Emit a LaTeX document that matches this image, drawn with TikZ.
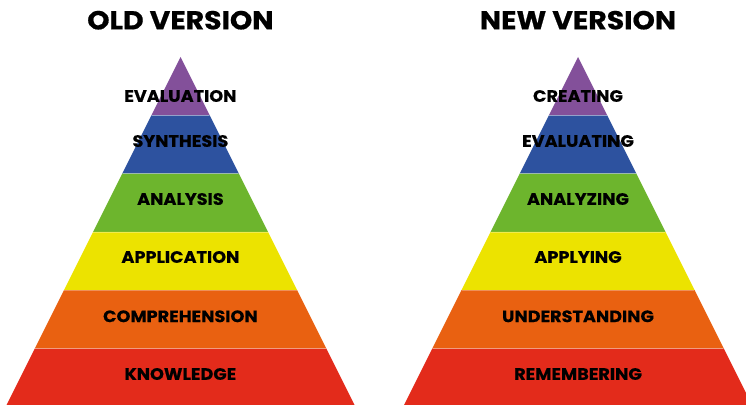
\documentclass[tikz,border=0pt]{standalone}
\usepackage{fontspec}
\setmainfont{Poppins}
\newfontfamily\heavyfont{Poppins}[UprightFont=* Bold, FakeStretch=1.09, FakeBold=0.6]
\newfontfamily\tierfont{Poppins}[UprightFont=* Bold, FakeStretch=1.07, FakeBold=0.4]
\definecolor{tierPurple}{HTML}{83509A}
\definecolor{tierBlue}{HTML}{2D529F}
\definecolor{tierGreen}{HTML}{6DB52D}
\definecolor{tierYellow}{HTML}{ECE300}
\definecolor{tierOrange}{HTML}{E96111}
\definecolor{tierRed}{HTML}{E32B1B}
\begin{document}
\begin{tikzpicture}[x=1pt,y=-1pt,
  heading/.style={font=\heavyfont\fontsize{26}{26}\selectfont, inner sep=0pt},
  tier/.style={font=\tierfont\fontsize{16.5}{16.5}\selectfont, inner sep=0pt},
  seam/.style={white, opacity=0.3, line width=0.8pt}]
\useasboundingbox (0,0) rectangle (746,404);
\clip (0,0) rectangle (746,404);
% two pyramids: apex x, apex at y=57, half-width grows by 0.5 per unit down
\foreach \cx in {180.5,578} {
  \foreach \ya/\yb/\col in {57/115.3/tierPurple, 115.3/173.6/tierBlue,
      173.6/231.9/tierGreen, 231.9/290.2/tierYellow,
      290.2/348.5/tierOrange, 348.5/412/tierRed} {
    \fill[\col] ({\cx-0.5*(\ya-57)},\ya) -- ({\cx+0.5*(\ya-57)},\ya)
      -- ({\cx+0.5*(\yb-57)},\yb) -- ({\cx-0.5*(\yb-57)},\yb) -- cycle;
  }
  \foreach \y in {115.3,173.6,231.9,290.2,348.5}
    \draw[seam] ({\cx-0.5*(\y-57)+0.4},\y) -- ({\cx+0.5*(\y-57)-0.4},\y);
}
% headings
\node[heading] (oldTitle) at (180.4,20.2) {OLD VERSION};
\node[heading] (newTitle) at (578,20.2) {NEW VERSION};
% tier labels, old taxonomy
\node[tier] (oEval) at (180.4,96) {EVALUATION};
\node[tier] (oSynth) at (180.4,141) {SYNTHESIS};
\node[tier] (oAnal) at (180.4,199) {ANALYSIS};
\node[tier] (oAppl) at (180.4,257) {APPLICATION};
\node[tier] (oComp) at (180.4,316.3) {COMPREHENSION};
\node[tier] (oKnow) at (180.4,374) {KNOWLEDGE};
% tier labels, revised taxonomy
\node[tier] (nCreate) at (578,96) {CREATING};
\node[tier] (nEval) at (578,141) {EVALUATING};
\node[tier] (nAnal) at (578,199) {ANALYZING};
\node[tier] (nAppl) at (578,257) {APPLYING};
\node[tier] (nUnder) at (578,316.3) {UNDERSTANDING};
\node[tier] (nRemem) at (578,374) {REMEMBERING};
\end{tikzpicture}
\end{document}
